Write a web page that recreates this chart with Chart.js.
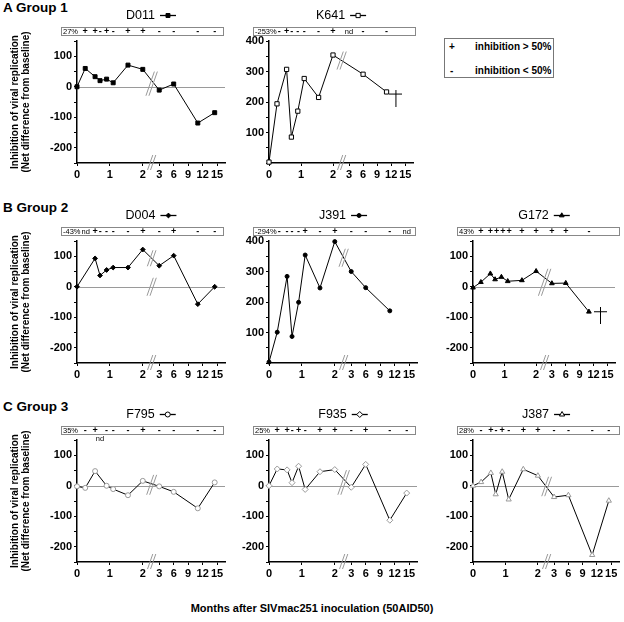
<!DOCTYPE html>
<html>
<head>
<meta charset="utf-8">
<script src="https://cdn.jsdelivr.net/npm/chart.js@4.4.0/dist/chart.umd.min.js"></script>
<style>
  body { margin: 0; background: #fff; width: 624px; height: 622px; position: relative; overflow: hidden;
         font-family: "Liberation Sans", Arial, sans-serif; color: #000; }
  canvas { position: absolute; }
  .grp { position: absolute; left: 3px; font-weight: bold; font-size: 13.5px; line-height: 14px; white-space: nowrap; }
  #legend { position: absolute; left: 444px; top: 38px; width: 108px; height: 38px; border: 1px solid #777;
            font-weight: bold; font-size: 10px; line-height: 12px; }
  #legend span { position: absolute; white-space: nowrap; }
  #xtitle { position: absolute; left: 0; top: 601px; width: 624px; text-align: center;
            font-weight: bold; font-size: 11px; line-height: 14px; }
</style>
</head>
<body>
<div class="grp" style="top:1px">A Group 1</div>
<div class="grp" style="top:201px">B Group 2</div>
<div class="grp" style="top:400px">C Group 3</div>
<div id="legend">
  <span style="left:4px;top:2px">+</span><span style="left:30px;top:2px">inhibition &gt; 50%</span>
  <span style="left:5px;top:26px">-</span><span style="left:30px;top:26px">inhibition &lt; 50%</span>
</div>
<div id="xtitle">Months after SIVmac251 inoculation (50AID50)</div>

<script>
const FONT = '"Liberation Sans", Arial, sans-serif';

// sampling times (months) and axis ticks
const times = [0, 0.25, 0.55, 0.7, 0.9, 1.1, 1.55, 2, 3, 6, 11, 14.5];
const monthTicks = [0, 1, 2, 3, 6, 9, 12, 15];
const yLabelsNeg = [100, 0, -100, -200];
const yLabelsPos = [400, 300, 200, 100];

// net inhibition per time point (null = not done)
const D011 = [0, 60, 33, 20, 25, 13, 71, 57, -11, 9, -119, -85];
const K641 = [3, 194, 307, 85, 170, 277, 215, 354, null, 291, 233, null];
const D004 = [0, null, 93, 37, 55, 63, 63, 122, 69, 102, -57, 0];
const J391 = [3, 101, 284, 87, 199, 354, 246, 398, 300, 247, 171, null];
const G172 = [-3, 15, 43, 24, 32, 18, 21, 51, 11, 12, -82, null];
const F795 = [-2, -7, 48, null, 0, -11, -31, 16, -2, -20, -74, 11];
const F935 = [0, 55, 52, 10, 64, -12, 46, 53, -5, 70, -113, -24];
const J387 = [0, 12, 42, -28, 46, -45, 54, 33, -37, -31, -227, -49];

// death markers [month, value]
const K641_death = [13, 213];
const G172_death = [13.5, -95];

// +/- strip above each plot (one entry per time point after 0; '_nd' = written under the box)
const D011_pct = '27%';
const D011_strip = ['+', '+', '-', '+', '-', '+', '+', '-', '-', '-', '-'];
const K641_pct = '-253%';
const K641_strip = ['-', '+', '-', '-', '-', '-', '+', 'nd', '-', '-', ''];
const D004_pct = '-43%';
const D004_strip = ['nd', '+', '-', '-', '-', '-', '+', '-', '+', '-', '-'];
const J391_pct = '-294%';
const J391_strip = ['-', '-', '-', '-', '+', '-', '+', '-', '-', '-', 'nd'];
const G172_pct = '43%';
const G172_strip = ['+', '+', '+', '+', '+', '+', '+', '+', '+', '-', ''];
const F795_pct = '35%';
const F795_strip = ['-', '+', '_nd', '-', '-', '-', '+', '-', '-', '-', '-'];
const F935_pct = '25%';
const F935_strip = ['+', '+', '-', '+', '-', '+', '+', '-', '+', '-', '-'];
const J387_pct = '28%';
const J387_strip = ['-', '+', '-', '+', '-', '+', '+', '-', '-', '-', '-'];

// broken time axis: 0-2 months linear, then 3..15 compressed
function axisPos(m) {
  return m <= 2 ? m : 2.5 + (m - 3) / 3 * 0.44;
}
const BREAK_AT = 2.27;

const colAxis = [77, 269, 473];
const colLeft = [0, 209, 413];
const colPadR = [4.5, 4.5, 2.5];
const rowTop = [0, 200, 399];

const panels = [
  {name: 'D011', col: 0, row: 0, values: D011, pct: D011_pct, strip: D011_strip, pos: false,
   shape: 'rect', r: 2.8, fill: '#000', edge: '#000'},
  {name: 'K641', col: 1, row: 0, values: K641, pct: K641_pct, strip: K641_strip, pos: true,
   shape: 'rect', r: 3, fill: '#fff', edge: '#000', death: K641_death},
  {name: 'D004', col: 0, row: 1, values: D004, pct: D004_pct, strip: D004_strip, pos: false,
   shape: 'rectRot', r: 2.4, fill: '#000', edge: '#000'},
  {name: 'J391', col: 1, row: 1, values: J391, pct: J391_pct, strip: J391_strip, pos: true,
   shape: 'circle', r: 2, fill: '#000', edge: '#000'},
  {name: 'G172', col: 2, row: 1, values: G172, pct: G172_pct, strip: G172_strip, pos: false,
   shape: 'triangle', r: 2.7, fill: '#000', edge: '#000', death: G172_death},
  {name: 'F795', col: 0, row: 2, values: F795, pct: F795_pct, strip: F795_strip, pos: false,
   shape: 'circle', r: 2.5, fill: '#fff', edge: '#999'},
  {name: 'F935', col: 1, row: 2, values: F935, pct: F935_pct, strip: F935_strip, pos: false,
   shape: 'rectRot', r: 3, fill: '#fff', edge: '#999'},
  {name: 'J387', col: 2, row: 2, values: J387, pct: J387_pct, strip: J387_strip, pos: false,
   shape: 'triangle', r: 3, fill: '#fff', edge: '#999'},
];

function makeDagger() {
  const c = document.createElement('canvas');
  c.width = 13; c.height = 17;
  const g = c.getContext('2d');
  g.strokeStyle = '#000';
  g.lineWidth = 1;
  g.beginPath();
  g.moveTo(6.5, 0); g.lineTo(6.5, 17);
  g.moveTo(0, 4.5); g.lineTo(13, 4.5);
  g.stroke();
  return c;
}
const dagger = makeDagger();

function drawShape(ctx, shape, x, y, r, fill, edge) {
  ctx.save();
  ctx.fillStyle = fill;
  ctx.strokeStyle = edge;
  ctx.lineWidth = 1;
  ctx.beginPath();
  if (shape === 'rect') {
    const s = r * Math.SQRT1_2;
    ctx.rect(x - s, y - s, 2 * s, 2 * s);
  } else if (shape === 'rectRot') {
    ctx.moveTo(x, y - r); ctx.lineTo(x + r, y); ctx.lineTo(x, y + r); ctx.lineTo(x - r, y); ctx.closePath();
  } else if (shape === 'triangle') {
    ctx.moveTo(x, y - r); ctx.lineTo(x + r * 0.87, y + r * 0.5); ctx.lineTo(x - r * 0.87, y + r * 0.5); ctx.closePath();
  } else {
    ctx.arc(x, y, r, 0, Math.PI * 2);
  }
  ctx.fill();
  ctx.stroke();
  ctx.restore();
}

function breakMark(ctx, x, y1, y2) {
  const dx = (y2 - y1) * 0.35;
  ctx.save();
  ctx.strokeStyle = '#999';
  ctx.lineWidth = 1;
  [-1.5, 1.5].forEach(off => {
    ctx.beginPath();
    ctx.moveTo(x + off - dx / 2, y2);
    ctx.lineTo(x + off + dx / 2, y1);
    ctx.stroke();
  });
  ctx.restore();
}

const panelDeco = {
  id: 'panelDeco',
  beforeDatasetsDraw(chart, args, o) {
    if (o.pos) return;
    const {ctx, chartArea: a} = chart;
    const y0 = Math.round(chart.scales.y.getPixelForValue(0)) + 0.5;
    ctx.save();
    ctx.strokeStyle = '#9a9a9a';
    ctx.lineWidth = 1;
    ctx.beginPath();
    ctx.moveTo(a.left, y0);
    ctx.lineTo(a.right, y0);
    ctx.stroke();
    ctx.restore();
  },
  afterDraw(chart, args, o) {
    const {ctx, chartArea: a} = chart;
    const xs = chart.scales.x, ys = chart.scales.y;

    // title with sample marker
    ctx.save();
    ctx.font = '12.5px ' + FONT;
    ctx.fillStyle = '#000';
    ctx.textBaseline = 'middle';
    ctx.textAlign = 'left';
    const tw = ctx.measureText(o.name).width;
    const total = tw + 5 + 16;
    const sx = (a.left + a.right) / 2 - total / 2;
    ctx.fillText(o.name, sx, 15.5);
    const mx = sx + tw + 5 + 8;
    ctx.strokeStyle = '#000';
    ctx.lineWidth = 1.3;
    ctx.beginPath(); ctx.moveTo(mx - 8, 15.5); ctx.lineTo(mx + 8, 15.5); ctx.stroke();
    drawShape(ctx, o.shape, mx, 15.5, o.r, o.fill, o.edge === '#999' ? '#000' : o.edge);
    ctx.restore();

    // +/- strip
    const bx0 = a.left - 16, bx1 = a.left + 146;
    ctx.save();
    ctx.strokeStyle = '#888';
    ctx.lineWidth = 1;
    ctx.strokeRect(Math.round(bx0) + 0.5, 27.5, bx1 - bx0, 8);
    ctx.fillStyle = '#000';
    ctx.textBaseline = 'middle';
    ctx.textAlign = 'left';
    ctx.font = '7.5px ' + FONT;
    ctx.fillText(o.pct, bx0 + 2, 31.8);
    let prevRight = bx0 + 2 + ctx.measureText(o.pct).width;
    o.strip.forEach((s, i) => {
      if (!s) return;
      const x = xs.getPixelForValue(axisPos(times[i + 1]));
      if (s === '_nd') {
        ctx.font = '7.5px ' + FONT;
        ctx.textAlign = 'center';
        ctx.fillText('nd', x, 40);
        ctx.textAlign = 'left';
        return;
      }
      ctx.font = (s === 'nd' ? '7.5px ' : 'bold 9px ') + FONT;
      const w = ctx.measureText(s).width;
      const left = Math.max(x - w / 2, prevRight + 1);
      ctx.fillText(s, left, s === 'nd' ? 31.8 : 31.5);
      prevRight = left + w;
    });
    ctx.restore();

    // axis break marks
    const xb = xs.getPixelForValue(BREAK_AT);
    let before = null, after = null;
    chart.getDatasetMeta(0).data.forEach(p => {
      if (p.skip) return;
      if (p.x <= xb) before = p;
      else if (!after) after = p;
    });
    const yd = before.y + (after.y - before.y) * (xb - before.x) / (after.x - before.x);
    breakMark(ctx, xb, a.bottom - 8, a.bottom + 7);
    if (!o.pos) {
      const yz = ys.getPixelForValue(0);
      if (Math.abs(yd - yz) > 20) {
        breakMark(ctx, xb, yd - 8, yd + 8);
        breakMark(ctx, xb, yz - 9, yz + 9);
      } else {
        breakMark(ctx, xb, Math.min(yd, yz) - 9, Math.max(yd, yz) + 9);
      }
    } else {
      breakMark(ctx, xb, yd - 9, yd + 9);
    }
  }
};

panels.forEach(p => {
  const canvas = document.createElement('canvas');
  const w = colAxis[p.col] - colLeft[p.col] + 148.5 + colPadR[p.col];
  canvas.width = w;
  canvas.height = 185;
  canvas.style.left = colLeft[p.col] + 'px';
  canvas.style.top = rowTop[p.row] + 'px';
  canvas.style.width = w + 'px';
  canvas.style.height = '185px';
  document.body.appendChild(canvas);

  const yLab = p.pos ? yLabelsPos : yLabelsNeg;
  const datasets = [{
    data: times.map((t, i) => ({x: axisPos(t), y: p.values[i]})),
    borderColor: '#000',
    borderWidth: 1,
    tension: 0,
    spanGaps: true,
    pointStyle: p.shape,
    pointRadius: p.r,
    pointBorderWidth: 1,
    pointBackgroundColor: p.fill,
    pointBorderColor: p.edge,
    clip: false
  }];
  if (p.death) {
    datasets.push({
      data: [{x: axisPos(p.death[0]), y: p.death[1]}],
      showLine: false,
      pointStyle: dagger,
      pointRadius: 8,
      clip: false
    });
  }

  const axisFont = {family: FONT, size: 11, weight: 'bold'};
  new Chart(canvas, {
    type: 'line',
    data: {datasets: datasets},
    plugins: [panelDeco],
    options: {
      responsive: false,
      animation: false,
      events: [],
      layout: {padding: {top: 41, right: colPadR[p.col], bottom: 0, left: 0}},
      plugins: {
        legend: {display: false},
        tooltip: {enabled: false},
        panelDeco: {name: p.name, pct: p.pct, strip: p.strip, pos: p.pos,
                    shape: p.shape, r: p.r, fill: p.fill, edge: p.edge}
      },
      scales: {
        x: {
          type: 'linear',
          min: 0,
          max: 4.5,
          afterBuildTicks: s => { s.ticks = monthTicks.map(m => ({value: axisPos(m)})); },
          afterFit: s => { s.height = 22; },
          ticks: {
            autoSkip: false, maxRotation: 0, minRotation: 0, padding: 2,
            color: '#000', font: axisFont,
            callback: (v, i) => monthTicks[i]
          },
          grid: {drawOnChartArea: false, tickLength: 3, color: '#000'},
          border: {color: '#000', width: 1.5}
        },
        y: {
          min: p.pos ? 0 : -250,
          max: p.pos ? 400 : 150,
          afterFit: s => { s.width = colAxis[p.col] - colLeft[p.col]; },
          ticks: {
            stepSize: 50, autoSkip: false, padding: 2,
            color: '#000', font: axisFont,
            callback: v => (yLab.indexOf(v) >= 0 ? String(v) : '')
          },
          grid: {drawOnChartArea: false, tickLength: 3, color: '#000'},
          border: {color: '#000', width: 1.5},
          title: {
            display: p.col === 0,
            text: ['Inhibition of viral replication', '(Net difference from baseline)'],
            color: '#000',
            font: {family: FONT, size: 10, weight: 'bold', lineHeight: 1.05},
            padding: {top: 10, bottom: 0}
          }
        }
      }
    }
  });
});
</script>
</body>
</html>
